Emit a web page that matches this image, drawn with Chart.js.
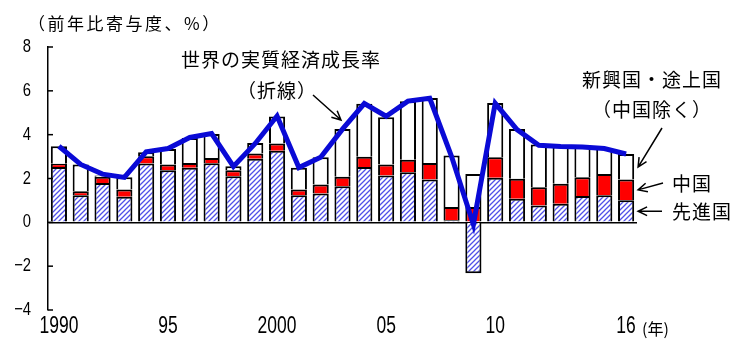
<!DOCTYPE html>
<html>
<head>
<meta charset="utf-8">
<script src="https://cdn.jsdelivr.net/npm/chart.js@4"></script>
<style>
  html, body { margin: 0; padding: 0; background: #fff; }
  #wrap { width: 733px; height: 340px; }
</style>
</head>
<body>
<div id="wrap"><canvas id="myChart" width="733" height="340"></canvas></div>
<script>
// 寄与度 (％ポイント), 1990-2016
var years = [1990, 1991, 1992, 1993, 1994, 1995, 1996, 1997, 1998, 1999, 2000, 2001, 2002, 2003,
             2004, 2005, 2006, 2007, 2008, 2009, 2010, 2011, 2012, 2013, 2014, 2015, 2016];
var tickText = ['1990', '', '', '', '', '95', '', '', '', '', '2000', '', '', '', '', '05', '', '', '', '',
                '10', '', '', '', '', '', '16'];
var advanced = [2.53, 1.24, 1.80, 1.17, 2.68, 2.38, 2.49, 2.70, 2.10, 2.90, 3.27, 1.24, 1.32, 1.65,
                2.53, 2.14, 2.29, 1.95, 0.09, -2.32, 2.03, 1.08, 0.77, 0.85, 1.20, 1.24, 1.01];
var china = [0.14, 0.18, 0.28, 0.33, 0.33, 0.26, 0.22, 0.24, 0.28, 0.24, 0.33, 0.26, 0.41, 0.43,
             0.46, 0.50, 0.57, 0.76, 0.61, 0.70, 0.94, 0.91, 0.83, 0.91, 0.86, 0.97, 0.94];
var emerging = [0.80, 1.22, 0.06, 0.56, 0.19, 0.71, 1.14, 1.09, 0.18, 0.48, 1.23, 0.99, 1.24, 2.18,
                2.42, 2.16, 2.66, 2.96, 2.35, 1.51, 2.47, 2.27, 1.95, 1.71, 1.38, 1.18, 1.17];
var world = [3.47, 2.64, 2.20, 2.05, 3.22, 3.37, 3.87, 4.05, 2.55, 3.60, 4.85, 2.50, 2.97, 4.25,
             5.42, 4.84, 5.53, 5.66, 3.00, -0.10, 5.43, 4.23, 3.52, 3.46, 3.44, 3.37, 3.12];

var numFont = "'Liberation Sans', Arial, sans-serif";
var jpFont = "'Noto Sans CJK JP', sans-serif";

// 先進国の斜線パターン
function hatch() {
  var n = 5;
  var c = document.createElement('canvas');
  c.width = n; c.height = n;
  var g = c.getContext('2d');
  g.fillStyle = '#fff';
  g.fillRect(0, 0, n, n);
  g.strokeStyle = '#5050e8';
  g.lineWidth = 1.3;
  g.beginPath();
  g.moveTo(-1, n + 1); g.lineTo(n + 1, -1);
  g.moveTo(-1, 1); g.lineTo(1, -1);
  g.moveTo(n - 1, n + 1); g.lineTo(n + 1, n - 1);
  g.stroke();
  return g.createPattern(c, 'repeat');
}

function arrow(ctx, x1, y1, x2, y2) {
  var a = Math.atan2(y2 - y1, x2 - x1), h = 10, s = 0.45;
  ctx.beginPath();
  ctx.moveTo(x1, y1); ctx.lineTo(x2, y2);
  ctx.moveTo(x2 - h * Math.cos(a - s), y2 - h * Math.sin(a - s));
  ctx.lineTo(x2, y2);
  ctx.lineTo(x2 - h * Math.cos(a + s), y2 - h * Math.sin(a + s));
  ctx.stroke();
}

// 幅を詰めた数字ラベル
function narrowText(ctx, txt, x, y, align, sx) {
  ctx.save();
  ctx.translate(x, y);
  ctx.scale(sx, 1);
  ctx.textAlign = align;
  ctx.fillText(txt, 0, 0);
  ctx.restore();
}

// 内向きの目盛り、軸ラベル、注記、矢印
var notes = {
  id: 'notes',
  afterDraw: function (chart) {
    var ctx = chart.ctx, ys = chart.scales.y, xs = chart.scales.x;
    var left = chart.chartArea.left;
    ctx.save();
    ctx.strokeStyle = '#000';
    ctx.fillStyle = '#000';
    ctx.lineWidth = 1.5;
    ctx.textBaseline = 'middle';

    ctx.font = '18.5px ' + numFont;
    ys.ticks.forEach(function (t) {
      var py = ys.getPixelForValue(t.value);
      ctx.beginPath(); ctx.moveTo(left, py); ctx.lineTo(left + 5, py); ctx.stroke();
      narrowText(ctx, String(t.value).replace('-', '\u2212'), 31, py, 'right', 0.8);
    });

    ctx.font = '23px ' + numFont;
    tickText.forEach(function (txt, i) {
      if (txt) narrowText(ctx, txt, xs.getPixelForValue(i), 327, 'center', 0.76);
    });

    ctx.font = '17px ' + jpFont;
    ctx.textAlign = 'left';
    ctx.letterSpacing = '2.5px';
    ctx.fillText('（前年比寄与度、%）', 28, 24);
    ctx.letterSpacing = '1px';

    ctx.font = '19px ' + jpFont;
    ctx.textAlign = 'center';
    ctx.fillText('世界の実質経済成長率', 281, 60);
    ctx.fillText('（折線）', 277, 91);
    ctx.fillText('新興国・途上国', 652, 80);
    ctx.fillText('（中国除く）', 652, 110);
    ctx.textAlign = 'left';
    ctx.fillText('中国', 672, 184);
    ctx.fillText('先進国', 672, 212);

    ctx.letterSpacing = '0px';
    ctx.font = '16px ' + jpFont;
    ctx.fillText('(年)', 642, 329);

    ctx.lineWidth = 1.5;
    arrow(ctx, 313, 95, 341, 120);
    var last = years.length - 1;
    var bx = xs.getPixelForValue(last) + 12;
    var topE = advanced[last] + china[last] + emerging[last];
    arrow(ctx, 662, 128, bx, ys.getPixelForValue(topE - 0.6));
    arrow(ctx, 663, 183, bx, ys.getPixelForValue(advanced[last] + china[last] / 2));
    arrow(ctx, 662, ys.getPixelForValue(advanced[last] / 2), bx, ys.getPixelForValue(advanced[last] / 2));
    ctx.restore();
  }
};

var barStyle = { borderColor: '#000', borderWidth: 2, barPercentage: 0.74, categoryPercentage: 1, order: 1 };

new Chart('myChart', {
  type: 'bar',
  data: {
    labels: years,
    datasets: [
      Object.assign({ label: '先進国', data: advanced, backgroundColor: hatch() }, barStyle),
      Object.assign({ label: '中国', data: china, backgroundColor: '#ff0000' }, barStyle),
      Object.assign({ label: '新興国・途上国（中国除く）', data: emerging, backgroundColor: '#fff' }, barStyle),
      {
        type: 'line', label: '世界の実質経済成長率', data: world, order: 0,
        borderColor: '#0a0ad6', borderWidth: 5, pointRadius: 0, tension: 0,
        borderJoinStyle: 'miter', fill: false
      }
    ]
  },
  options: {
    responsive: false,
    animation: false,
    layout: { padding: { top: 47, right: 96, left: 0, bottom: 0 } },
    plugins: { legend: { display: false }, tooltip: { enabled: false } },
    scales: {
      x: {
        stacked: true,
        grid: { display: false },
        border: { display: false },
        afterFit: function (s) { s.height = 30; },
        ticks: { display: false, autoSkip: false }
      },
      y: {
        stacked: true,
        min: -4, max: 8,
        afterFit: function (s) { s.width = 48; },
        border: { display: true, color: '#000', width: 1.5 },
        grid: {
          drawTicks: false,
          color: function (c) { return c.tick && c.tick.value === 0 ? '#000' : 'rgba(0,0,0,0)'; },
          lineWidth: 1.5
        },
        ticks: { display: false, stepSize: 2 }
      }
    }
  },
  plugins: [notes]
});
</script>
</body>
</html>
